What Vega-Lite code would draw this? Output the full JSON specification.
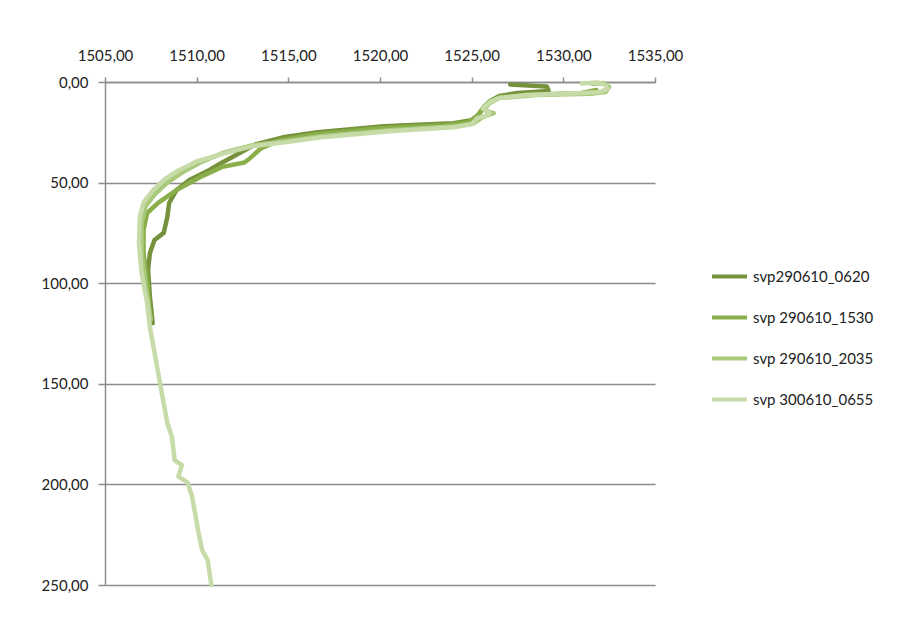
{
  "$schema": "https://vega.github.io/schema/vega-lite/v6.json",
  "autosize": "none",
  "width": 550,
  "height": 503,
  "padding": {"left": 105, "top": 82, "right": 247, "bottom": 43},
  "background": "white",
  "config": {
    "view": {"stroke": null},
    "font": "Lato",
    "axis": {"labelFont": "Lato", "labelFontSize": 15, "labelColor": "#222222", "domainColor": "#8c8c8c", "domainWidth": 1.5, "tickColor": "#8c8c8c", "tickWidth": 1.5, "gridColor": "#8c8c8c", "gridWidth": 1.5, "labelFlush": false, "labelOverlap": false},
    "legend": {"labelFont": "Lato", "labelFontSize": 15, "labelColor": "#222222"}
  },
  "datasets": {
    "svp": [
      {"s": "svp290610_0620", "i": 1, "v": 1527.1, "d": 1.2},
      {"s": "svp290610_0620", "i": 2, "v": 1529.1, "d": 2.2},
      {"s": "svp290610_0620", "i": 3, "v": 1529.2, "d": 4.5},
      {"s": "svp290610_0620", "i": 4, "v": 1527.5, "d": 5.5},
      {"s": "svp290610_0620", "i": 5, "v": 1526.5, "d": 7},
      {"s": "svp290610_0620", "i": 6, "v": 1526.1, "d": 9},
      {"s": "svp290610_0620", "i": 7, "v": 1525.7, "d": 12},
      {"s": "svp290610_0620", "i": 8, "v": 1525.4, "d": 16},
      {"s": "svp290610_0620", "i": 9, "v": 1525.0, "d": 19},
      {"s": "svp290610_0620", "i": 10, "v": 1524.0, "d": 20.5},
      {"s": "svp290610_0620", "i": 11, "v": 1520.2, "d": 22},
      {"s": "svp290610_0620", "i": 12, "v": 1516.6, "d": 25},
      {"s": "svp290610_0620", "i": 13, "v": 1514.7, "d": 27.5},
      {"s": "svp290610_0620", "i": 14, "v": 1513.2, "d": 31},
      {"s": "svp290610_0620", "i": 15, "v": 1512.2, "d": 36},
      {"s": "svp290610_0620", "i": 16, "v": 1511.2, "d": 41},
      {"s": "svp290610_0620", "i": 17, "v": 1510.7, "d": 43.7},
      {"s": "svp290610_0620", "i": 18, "v": 1509.6, "d": 48.7},
      {"s": "svp290610_0620", "i": 19, "v": 1508.9, "d": 53.7},
      {"s": "svp290610_0620", "i": 20, "v": 1508.5, "d": 60.1},
      {"s": "svp290610_0620", "i": 21, "v": 1508.4, "d": 67.1},
      {"s": "svp290610_0620", "i": 22, "v": 1508.2, "d": 75},
      {"s": "svp290610_0620", "i": 23, "v": 1507.7, "d": 78.5},
      {"s": "svp290610_0620", "i": 24, "v": 1507.45, "d": 85},
      {"s": "svp290610_0620", "i": 25, "v": 1507.35, "d": 93.4},
      {"s": "svp290610_0620", "i": 26, "v": 1507.45, "d": 106.9},
      {"s": "svp290610_0620", "i": 27, "v": 1507.6, "d": 119.8},

      {"s": "svp 290610_1530", "i": 1, "v": 1531.8, "d": 4.0},
      {"s": "svp 290610_1530", "i": 2, "v": 1531.0, "d": 5.5},
      {"s": "svp 290610_1530", "i": 3, "v": 1528.0, "d": 6.5},
      {"s": "svp 290610_1530", "i": 4, "v": 1526.5, "d": 7.5},
      {"s": "svp 290610_1530", "i": 5, "v": 1526.0, "d": 9.5},
      {"s": "svp 290610_1530", "i": 6, "v": 1525.6, "d": 13},
      {"s": "svp 290610_1530", "i": 7, "v": 1525.3, "d": 17},
      {"s": "svp 290610_1530", "i": 8, "v": 1524.8, "d": 20},
      {"s": "svp 290610_1530", "i": 9, "v": 1523.5, "d": 21.5},
      {"s": "svp 290610_1530", "i": 10, "v": 1520.0, "d": 23},
      {"s": "svp 290610_1530", "i": 11, "v": 1516.5, "d": 26},
      {"s": "svp 290610_1530", "i": 12, "v": 1514.5, "d": 29},
      {"s": "svp 290610_1530", "i": 13, "v": 1513.5, "d": 33},
      {"s": "svp 290610_1530", "i": 14, "v": 1512.9, "d": 38},
      {"s": "svp 290610_1530", "i": 15, "v": 1512.6, "d": 40},
      {"s": "svp 290610_1530", "i": 16, "v": 1511.4, "d": 42.2},
      {"s": "svp 290610_1530", "i": 17, "v": 1510.2, "d": 47.2},
      {"s": "svp 290610_1530", "i": 18, "v": 1508.9, "d": 53.7},
      {"s": "svp 290610_1530", "i": 19, "v": 1507.9, "d": 60.1},
      {"s": "svp 290610_1530", "i": 20, "v": 1507.3, "d": 65.1},
      {"s": "svp 290610_1530", "i": 21, "v": 1507.1, "d": 73.6},
      {"s": "svp 290610_1530", "i": 22, "v": 1507.1, "d": 85},
      {"s": "svp 290610_1530", "i": 23, "v": 1507.3, "d": 98.4},
      {"s": "svp 290610_1530", "i": 24, "v": 1507.4, "d": 110},

      {"s": "svp 290610_2035", "i": 1, "v": 1531.6, "d": 1.0},
      {"s": "svp 290610_2035", "i": 2, "v": 1532.2, "d": 0.5},
      {"s": "svp 290610_2035", "i": 3, "v": 1532.5, "d": 2.5},
      {"s": "svp 290610_2035", "i": 4, "v": 1532.3, "d": 5.0},
      {"s": "svp 290610_2035", "i": 5, "v": 1531.5, "d": 5.8},
      {"s": "svp 290610_2035", "i": 6, "v": 1528.5, "d": 6.5},
      {"s": "svp 290610_2035", "i": 7, "v": 1526.5, "d": 8},
      {"s": "svp 290610_2035", "i": 8, "v": 1525.9, "d": 11},
      {"s": "svp 290610_2035", "i": 9, "v": 1525.7, "d": 14},
      {"s": "svp 290610_2035", "i": 10, "v": 1526.2, "d": 15.5},
      {"s": "svp 290610_2035", "i": 11, "v": 1525.6, "d": 17.5},
      {"s": "svp 290610_2035", "i": 12, "v": 1525.1, "d": 20.5},
      {"s": "svp 290610_2035", "i": 13, "v": 1524.2, "d": 22},
      {"s": "svp 290610_2035", "i": 14, "v": 1520.5, "d": 24},
      {"s": "svp 290610_2035", "i": 15, "v": 1516.8, "d": 27},
      {"s": "svp 290610_2035", "i": 16, "v": 1514.8, "d": 29.5},
      {"s": "svp 290610_2035", "i": 17, "v": 1513.0, "d": 31.5},
      {"s": "svp 290610_2035", "i": 18, "v": 1511.5, "d": 35},
      {"s": "svp 290610_2035", "i": 19, "v": 1510.2, "d": 40},
      {"s": "svp 290610_2035", "i": 20, "v": 1509.2, "d": 45},
      {"s": "svp 290610_2035", "i": 21, "v": 1508.4, "d": 50},
      {"s": "svp 290610_2035", "i": 22, "v": 1507.7, "d": 56},
      {"s": "svp 290610_2035", "i": 23, "v": 1507.2, "d": 62},
      {"s": "svp 290610_2035", "i": 24, "v": 1507.0, "d": 70},
      {"s": "svp 290610_2035", "i": 25, "v": 1507.0, "d": 85},
      {"s": "svp 290610_2035", "i": 26, "v": 1507.2, "d": 100},
      {"s": "svp 290610_2035", "i": 27, "v": 1507.5, "d": 118},

      {"s": "svp 300610_0655", "i": 1, "v": 1531.0, "d": 0.8},
      {"s": "svp 300610_0655", "i": 2, "v": 1531.9, "d": 0.3},
      {"s": "svp 300610_0655", "i": 3, "v": 1532.3, "d": 1.5},
      {"s": "svp 300610_0655", "i": 4, "v": 1532.4, "d": 3.5},
      {"s": "svp 300610_0655", "i": 5, "v": 1532.0, "d": 5.0},
      {"s": "svp 300610_0655", "i": 6, "v": 1531.0, "d": 5.5},
      {"s": "svp 300610_0655", "i": 7, "v": 1528.0, "d": 6.5},
      {"s": "svp 300610_0655", "i": 8, "v": 1526.5, "d": 8.0},
      {"s": "svp 300610_0655", "i": 9, "v": 1526.0, "d": 10.0},
      {"s": "svp 300610_0655", "i": 10, "v": 1525.6, "d": 13},
      {"s": "svp 300610_0655", "i": 11, "v": 1526.0, "d": 15},
      {"s": "svp 300610_0655", "i": 12, "v": 1525.9, "d": 16.5},
      {"s": "svp 300610_0655", "i": 13, "v": 1525.3, "d": 18},
      {"s": "svp 300610_0655", "i": 14, "v": 1525.0, "d": 21},
      {"s": "svp 300610_0655", "i": 15, "v": 1524.0, "d": 22.5},
      {"s": "svp 300610_0655", "i": 16, "v": 1520.5, "d": 24.5},
      {"s": "svp 300610_0655", "i": 17, "v": 1516.8, "d": 27.5},
      {"s": "svp 300610_0655", "i": 18, "v": 1514.8, "d": 30},
      {"s": "svp 300610_0655", "i": 19, "v": 1513.0, "d": 32},
      {"s": "svp 300610_0655", "i": 20, "v": 1511.5, "d": 35.5},
      {"s": "svp 300610_0655", "i": 21, "v": 1510.0, "d": 39.5},
      {"s": "svp 300610_0655", "i": 22, "v": 1509.0, "d": 44},
      {"s": "svp 300610_0655", "i": 23, "v": 1508.3, "d": 48},
      {"s": "svp 300610_0655", "i": 24, "v": 1507.6, "d": 54},
      {"s": "svp 300610_0655", "i": 25, "v": 1507.1, "d": 60},
      {"s": "svp 300610_0655", "i": 26, "v": 1506.9, "d": 67},
      {"s": "svp 300610_0655", "i": 27, "v": 1506.85, "d": 80},
      {"s": "svp 300610_0655", "i": 28, "v": 1507.0, "d": 95},
      {"s": "svp 300610_0655", "i": 29, "v": 1507.3, "d": 110},
      {"s": "svp 300610_0655", "i": 30, "v": 1507.45, "d": 121.8},
      {"s": "svp 300610_0655", "i": 31, "v": 1508.0, "d": 149.6},
      {"s": "svp 300610_0655", "i": 32, "v": 1508.4, "d": 169.5},
      {"s": "svp 300610_0655", "i": 33, "v": 1508.65, "d": 176.4},
      {"s": "svp 300610_0655", "i": 34, "v": 1508.8, "d": 188},
      {"s": "svp 300610_0655", "i": 35, "v": 1509.2, "d": 190.4},
      {"s": "svp 300610_0655", "i": 36, "v": 1509.0, "d": 196},
      {"s": "svp 300610_0655", "i": 37, "v": 1509.5, "d": 199},
      {"s": "svp 300610_0655", "i": 38, "v": 1509.75, "d": 206},
      {"s": "svp 300610_0655", "i": 39, "v": 1510.1, "d": 224},
      {"s": "svp 300610_0655", "i": 40, "v": 1510.3, "d": 232.6},
      {"s": "svp 300610_0655", "i": 41, "v": 1510.6, "d": 237.6},
      {"s": "svp 300610_0655", "i": 42, "v": 1510.8, "d": 250}
    ]
  },
  "data": {"name": "svp"},
  "encoding": {
    "x": {"field": "v", "type": "quantitative",
      "scale": {"domain": [1505, 1535], "nice": false, "zero": false},
      "axis": {"orient": "top", "title": null, "grid": false, "values": [1505, 1510, 1515, 1520, 1525, 1530, 1535], "tickSize": 5, "labelPadding": 14, "labelExpr": "replace(format(datum.value, '.2f'), '.', ',')"}},
    "y": {"field": "d", "type": "quantitative",
      "scale": {"domain": [0, 250], "nice": false, "reverse": true},
      "axis": {"title": null, "grid": true, "values": [0, 50, 100, 150, 200, 250], "tickSize": 7, "labelPadding": 10, "labelExpr": "replace(format(datum.value, '.2f'), '.', ',')"}},
    "order": {"field": "i", "type": "quantitative"},
    "color": {"field": "s", "type": "nominal",
      "scale": {"domain": ["svp290610_0620", "svp 290610_1530", "svp 290610_2035", "svp 300610_0655"], "range": ["#76923c", "#8aae4a", "#a8c97a", "#c6dba8"]},
      "legend": {"title": null, "orient": "none", "legendX": 605, "legendY": 175, "symbolType": "stroke", "symbolSize": 1225, "symbolStrokeWidth": 4, "labelOffset": 4, "rowPadding": 13}}
  },
  "layer": [
    {"transform": [{"filter": "datum.s == 'svp290610_0620'"}], "mark": {"type": "line", "strokeWidth": 4.5, "strokeJoin": "round", "strokeCap": "round"}},
    {"transform": [{"filter": "datum.s == 'svp 290610_1530'"}], "mark": {"type": "line", "strokeWidth": 4.5, "strokeJoin": "round", "strokeCap": "round"}},
    {"transform": [{"filter": "datum.s == 'svp 290610_2035'"}], "mark": {"type": "line", "strokeWidth": 4.5, "strokeJoin": "round", "strokeCap": "round"}},
    {"transform": [{"filter": "datum.s == 'svp 300610_0655'"}], "mark": {"type": "line", "strokeWidth": 4.5, "strokeJoin": "round", "strokeCap": "round"}}
  ]
}
